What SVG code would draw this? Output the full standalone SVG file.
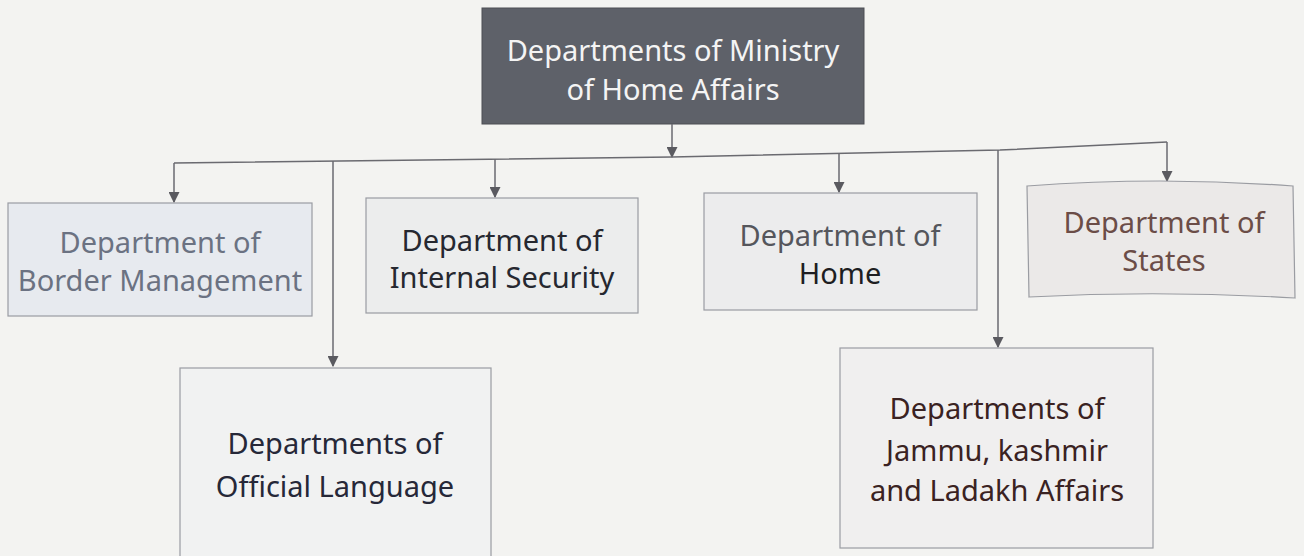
<svg xmlns="http://www.w3.org/2000/svg" width="1304" height="556" viewBox="0 0 1304 556">
<defs>
<marker id="ah" viewBox="0 0 10 10" refX="9" refY="5" markerWidth="11" markerHeight="11" markerUnits="userSpaceOnUse" orient="auto">
<path d="M0,0 L10,5 L0,10 z" fill="#5a5a60"/>
</marker>
</defs>
<style>
.bg{fill:#f3f3f1}
.box{stroke:#9a9ca2;stroke-width:1.2}
.t{font-family:"Noto Sans","Open Sans",sans-serif;font-size:29px;text-anchor:middle}
.c{fill:none;stroke:#6a6a70;stroke-width:1.5}
</style>
<rect class="bg" x="0" y="0" width="1304" height="556"/>
<g id="root">
<rect x="482" y="8" width="382" height="116" fill="#5e6169" stroke="#4c4e55"/>
<text class="t" x="673" y="61" fill="#f4f4f4" font-size="32">Departments of Ministry</text>
<text class="t" x="673" y="100" fill="#f4f4f4" font-size="32">of Home Affairs</text>
</g>
<g id="connectors">
<line class="c" x1="672" y1="124" x2="672" y2="157" marker-end="url(#ah)"/>
<polyline class="c" points="174,163 672,157 1000,150 1167,142"/>
<line class="c" x1="174" y1="163" x2="174" y2="202" marker-end="url(#ah)"/>
<line class="c" x1="333" y1="161" x2="333" y2="366" marker-end="url(#ah)"/>
<line class="c" x1="495" y1="159" x2="495" y2="197" marker-end="url(#ah)"/>
<line class="c" x1="839" y1="154" x2="839" y2="192" marker-end="url(#ah)"/>
<line class="c" x1="998" y1="150" x2="998" y2="347" marker-end="url(#ah)"/>
<line class="c" x1="1167" y1="142" x2="1167" y2="181" marker-end="url(#ah)"/>
</g>
<g id="border">
<rect class="box" x="8" y="203" width="304" height="113" fill="#e7eaef"/>
<text class="t" x="160" y="253" fill="#6b7282">Department of</text>
<text class="t" x="160" y="291" fill="#6b7282">Border Management</text>
</g>
<g id="internal">
<rect class="box" x="366" y="198" width="272" height="115" fill="#eceded"/>
<text class="t" x="502" y="251" fill="#262830">Department of</text>
<text class="t" x="502" y="288" fill="#262830">Internal Security</text>
</g>
<g id="home">
<rect class="box" x="704" y="193" width="273" height="117" fill="#ececed"/>
<text class="t" x="840" y="246" fill="#55565c">Department of</text>
<text class="t" x="840" y="284" fill="#1e1e22">Home</text>
</g>
<g id="states">
<path class="box" d="M1027,186 Q1160,176 1293,186 L1295,298 Q1160,290 1029,297 z" fill="#ebe9e8"/>
<text class="t" x="1164" y="233" fill="#6b4d47">Department of</text>
<text class="t" x="1164" y="271" fill="#6b4d47">States</text>
</g>
<g id="official">
<rect class="box" x="180" y="368" width="311" height="190" fill="#f1f2f2"/>
<text class="t" x="335" y="454" fill="#262838">Departments of</text>
<text class="t" x="335" y="497" fill="#262838">Official Language</text>
</g>
<g id="jammu">
<rect class="box" x="840" y="348" width="313" height="200" fill="#f0efef"/>
<text class="t" x="997" y="419" fill="#3a2222">Departments of</text>
<text class="t" x="997" y="461" fill="#3a2222">Jammu, kashmir</text>
<text class="t" x="997" y="501" fill="#3a2222">and Ladakh Affairs</text>
</g>
</svg>
